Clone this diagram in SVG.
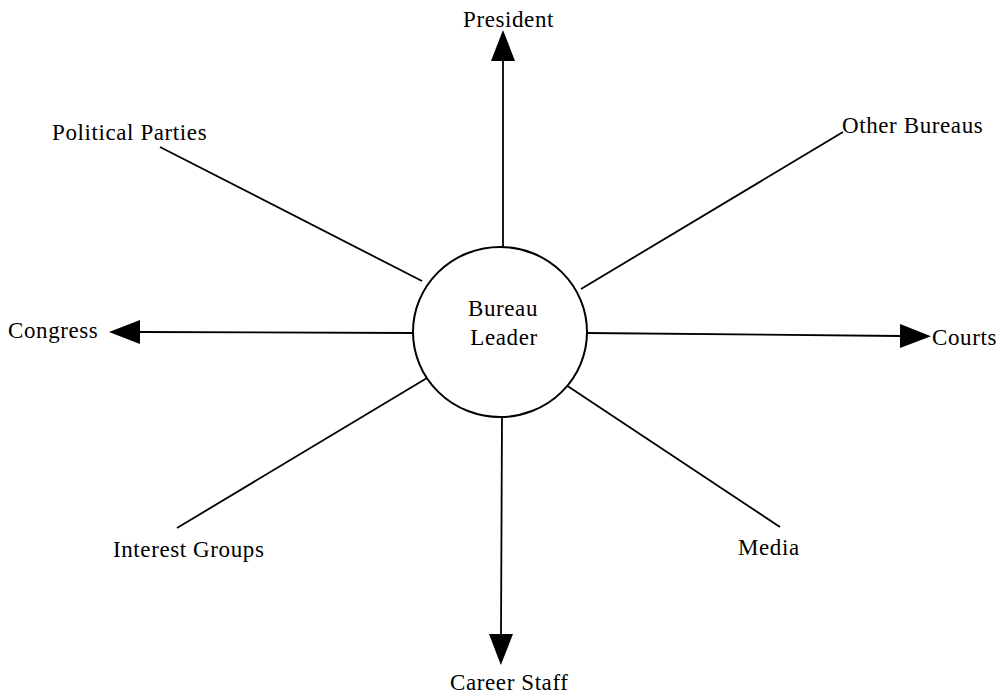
<svg xmlns="http://www.w3.org/2000/svg" width="1003" height="693" viewBox="0 0 1003 693">
  <style>
    .lbl { font-family: "Liberation Serif", "Times New Roman", serif; font-size: 23px; letter-spacing: 0.6px; fill: #000; }
    .link { stroke: #000; stroke-width: 1.8; fill: none; }
    .hub { fill: #fff; stroke: #000; stroke-width: 2; }
  </style>
  <defs>
    <marker id="head" markerUnits="userSpaceOnUse" markerWidth="31" markerHeight="24" refX="0" refY="12" orient="auto" viewBox="0 0 31 24">
      <path d="M0,0 L31,12 L0,24 Z" fill="#000"/>
    </marker>
  </defs>

  <g id="connectors">
    <line class="link" x1="503" y1="247" x2="503" y2="61" marker-end="url(#head)"/>
    <line class="link" x1="422" y1="281" x2="160" y2="147"/>
    <line class="link" x1="581" y1="289" x2="843" y2="132"/>
    <line class="link" x1="413" y1="333" x2="140" y2="332" marker-end="url(#head)"/>
    <line class="link" x1="587" y1="333" x2="900" y2="336" marker-end="url(#head)"/>
    <line class="link" x1="427" y1="378" x2="177" y2="528"/>
    <line class="link" x1="566" y1="385" x2="780" y2="527"/>
    <line class="link" x1="502" y1="417" x2="501" y2="634" marker-end="url(#head)"/>
  </g>

  <g id="bureau-leader">
    <ellipse class="hub" cx="500" cy="332" rx="87" ry="85"/>
    <text class="lbl" x="503" y="316" text-anchor="middle">Bureau</text>
    <text class="lbl" x="504" y="345" text-anchor="middle">Leader</text>
  </g>
  <g id="president"><text class="lbl" x="463" y="27">President</text></g>
  <g id="political-parties"><text class="lbl" x="52" y="140">Political Parties</text></g>
  <g id="other-bureaus"><text class="lbl" x="842" y="133">Other Bureaus</text></g>
  <g id="congress"><text class="lbl" x="8" y="338">Congress</text></g>
  <g id="courts"><text class="lbl" x="932" y="345">Courts</text></g>
  <g id="interest-groups"><text class="lbl" x="113" y="557">Interest Groups</text></g>
  <g id="media"><text class="lbl" x="738" y="555">Media</text></g>
  <g id="career-staff"><text class="lbl" x="450" y="690">Career Staff</text></g>
</svg>
